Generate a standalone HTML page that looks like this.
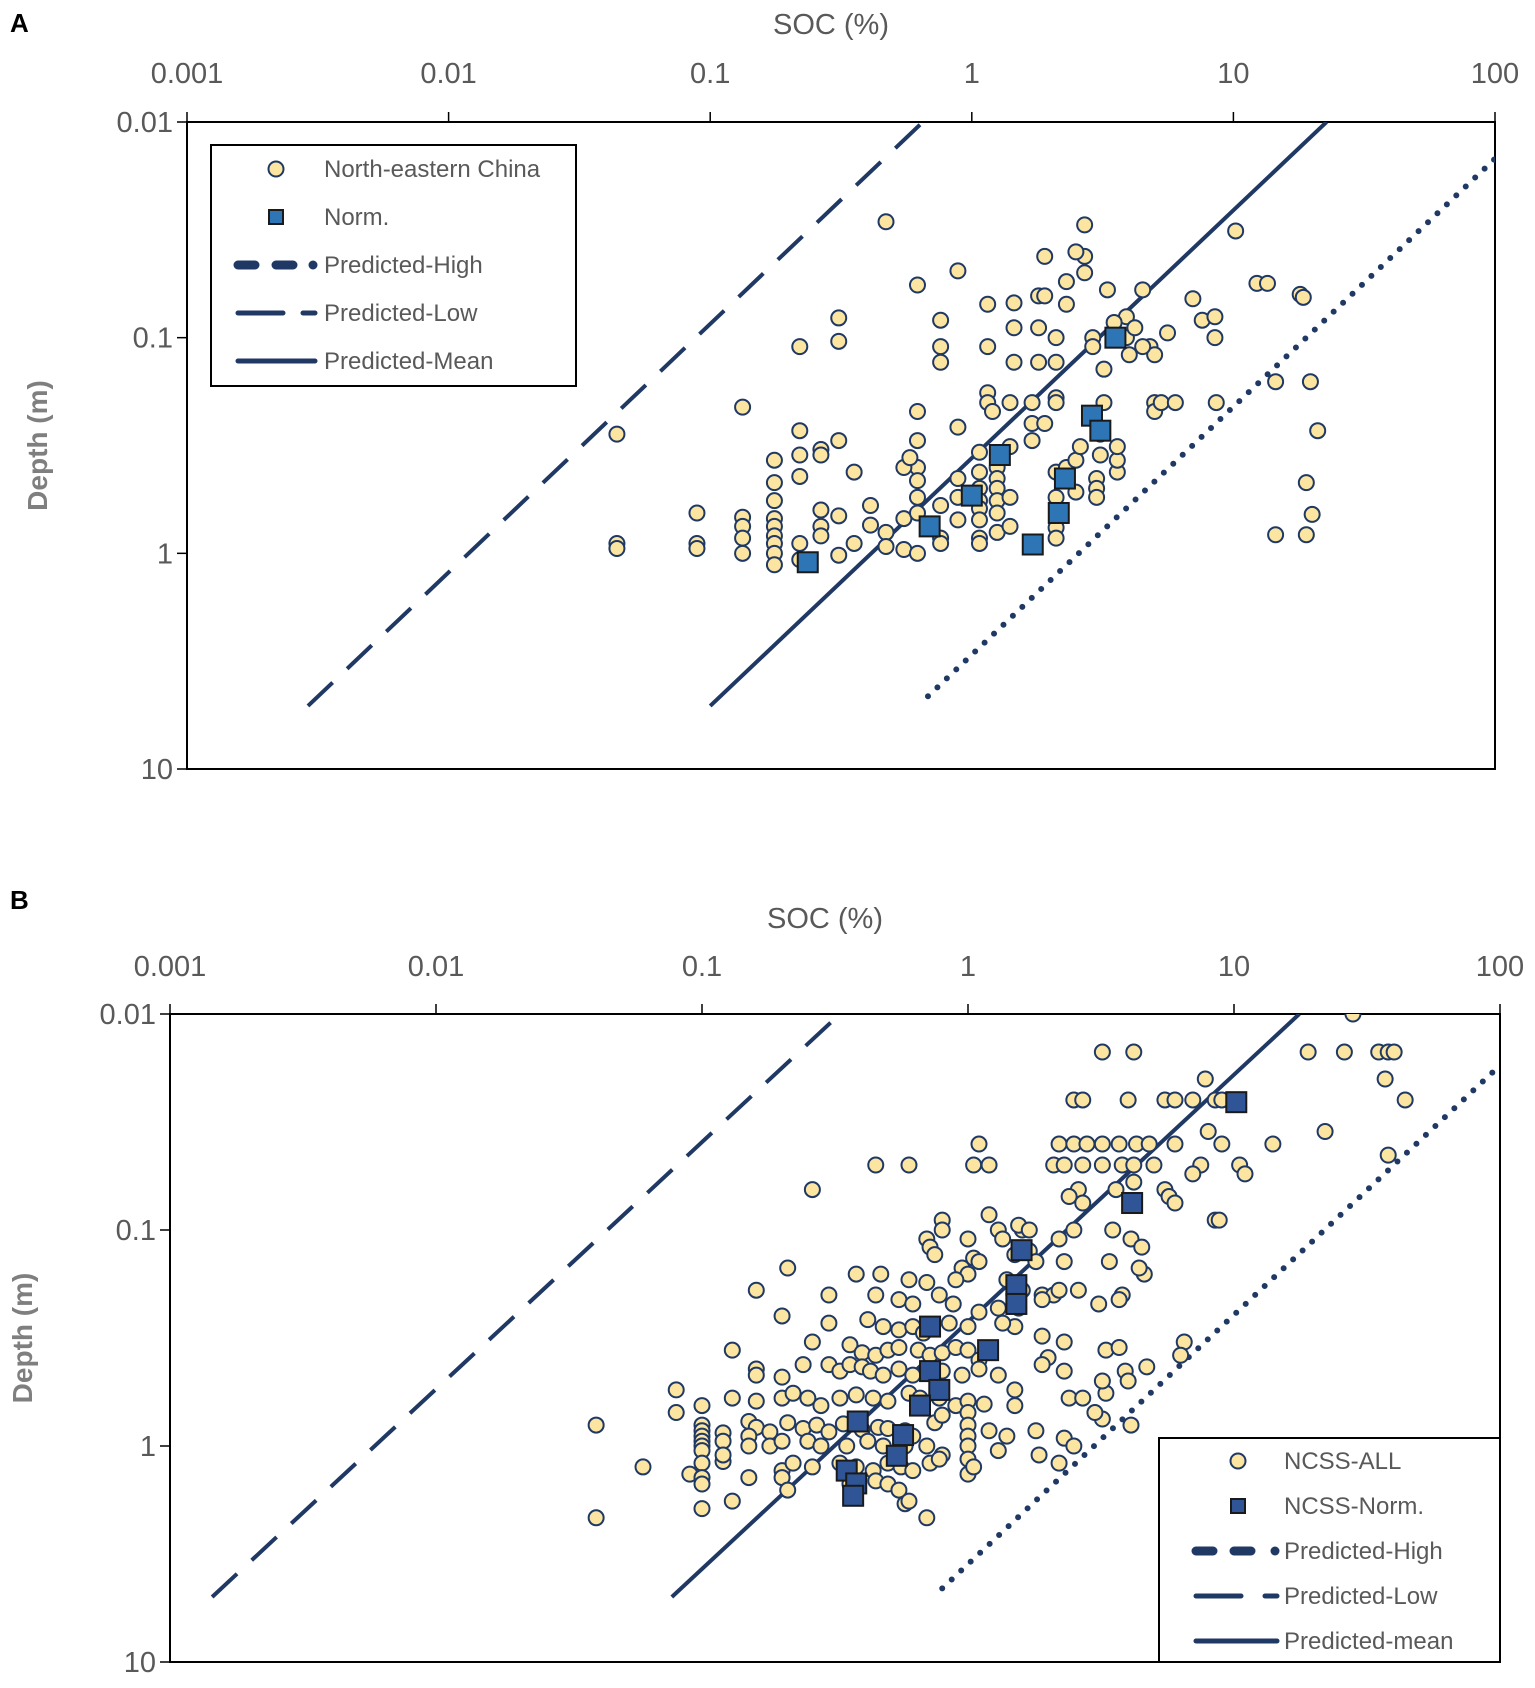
<!DOCTYPE html>
<html><head><meta charset="utf-8"><style>
html,body{margin:0;padding:0;background:#fff;}
svg text{font-family:"Liberation Sans",sans-serif;}
</style></head><body>
<svg id="fig" width="1535" height="1683" viewBox="0 0 1535 1683" xmlns="http://www.w3.org/2000/svg"></svg>
<script>
const xTicks = [0.001, 0.01, 0.1, 1, 10, 100];
const xTickLabels = ["0.001","0.01","0.1","1","10","100"];
const yTicks = [0.01, 0.1, 1, 10];
const yTickLabels = ["0.01","0.1","1","10"];

const aCircleSoc = [0.044,0.044,0.044,0.089,0.089,0.089,0.133,0.133,0.133,0.133,0.133,0.176,0.176,0.176,0.176,0.176,0.176,0.176,0.176,0.176,0.22,0.22,0.22,0.22,0.22,0.22,0.265,0.265,0.265,0.265,0.265,0.31,0.31,0.31,0.31,0.31,0.355,0.355,0.41,0.41,0.47,0.47,0.47,0.55,0.55,0.62,0.62,0.62,0.62,0.62,0.62,0.62,0.62,0.55,0.58,0.76,0.76,0.76,0.885,0.885,0.885,0.885,0.885,0.76,0.76,0.76,1.07,1.07,1.07,1.07,1.07,1.07,1.07,1.07,1.25,1.25,1.25,1.25,1.25,1.25,1.15,1.15,1.15,1.15,1.2,1.4,1.4,1.4,1.4,1.45,1.45,1.45,1.7,1.7,1.7,1.8,1.8,1.8,1.9,1.9,2.1,2.1,2.1,2.1,2.1,2.1,2.1,2.1,2.3,2.3,2.5,2.5,2.7,2.7,2.7,2.9,2.9,3.0,3.0,3.0,3.1,3.2,3.2,3.6,3.6,3.6,3.9,3.9,4.0,4.5,4.8,5,5,5,5.3,5.6,6,7,7.6,8.5,8.6,8.5,10.2,12.3,13.5,14.5,14.5,18,18.5,19.7,19,19,20,21,2.5,2.3,3.3,3.5,4.2,4.5,1.9,2.6,3.1];
const aCircleDepth = [0.28,0.9,0.95,0.65,0.9,0.95,0.21,0.68,0.75,0.85,1.0,0.37,0.47,0.57,0.69,0.75,0.83,0.9,1.0,1.13,0.11,0.27,0.35,0.44,0.9,1.07,0.63,0.75,0.83,0.33,0.35,0.081,0.104,0.3,0.67,1.02,0.42,0.9,0.6,0.74,0.029,0.8,0.93,0.69,0.96,0.057,0.22,0.3,0.4,0.46,0.55,0.65,1.0,0.4,0.36,0.6,0.85,0.9,0.049,0.26,0.45,0.55,0.7,0.083,0.11,0.13,0.34,0.42,0.5,0.57,0.62,0.7,0.85,0.9,0.4,0.45,0.5,0.57,0.65,0.8,0.07,0.11,0.18,0.2,0.22,0.2,0.32,0.55,0.75,0.069,0.09,0.13,0.3,0.25,0.2,0.13,0.09,0.064,0.042,0.064,0.1,0.13,0.19,0.2,0.42,0.55,0.76,0.85,0.07,0.4,0.37,0.52,0.03,0.042,0.05,0.1,0.11,0.45,0.5,0.55,0.28,0.2,0.14,0.42,0.37,0.32,0.08,0.1,0.12,0.06,0.11,0.12,0.2,0.22,0.2,0.095,0.2,0.066,0.083,0.08,0.2,0.1,0.032,0.056,0.056,0.16,0.82,0.063,0.065,0.16,0.47,0.82,0.66,0.27,0.04,0.055,0.06,0.085,0.09,0.11,0.25,0.32,0.35];
const aSquareSoc = [0.236,0.69,1.0,1.28,1.71,2.15,2.27,2.88,3.1,3.54];
const aSquareDepth = [1.1,0.75,0.54,0.35,0.91,0.65,0.45,0.23,0.27,0.1];
const aHighLine = [[0.0029,5.1],[0.65,0.01]];
const aMeanLine = [[0.1,5.1],[22.7,0.01]];
const aLowLine = [[0.68,4.6],[100,0.0148]];

const bCircleSoc = [28,3.2,4.2,19,26,35,38,40,7.8,37,2.5,2.7,4,5.5,6,7,8.5,9,44,2.2,2.5,2.8,3.2,3.7,4.3,4.8,6,14,8,22,9,1.1,1.05,1.2,2.1,2.3,2.7,3.2,3.8,4.2,5,7.5,10.5,11,7,38,0.45,0.6,0.26,2.6,2.4,3.6,4.2,5.5,5.7,6,2.7,8.5,8.8,1.2,0.8,0.8,1.6,1.55,1.7,1.3,1.35,2.5,2.2,3.5,4.1,4.5,0.7,0.72,0.75,1.0,1.05,1.1,0.95,1.0,1.5,1.7,1.8,2.3,3.4,4.6,4.4,0.21,0.38,0.47,0.6,0.7,0.9,1.4,1.6,1.9,2.1,2.6,3.1,3.8,3.7,0.16,0.3,0.45,0.55,0.62,0.78,0.88,1.1,1.3,1.55,1.9,2.2,0.2,0.3,0.42,0.48,0.55,0.62,0.68,0.85,1.0,1.5,1.35,0.13,0.26,0.36,0.4,0.45,0.5,0.55,0.65,0.72,0.8,0.9,1.0,1.1,1.9,2.0,2.3,3.3,3.7,6.5,0.16,0.16,0.2,0.24,0.3,0.33,0.36,0.4,0.43,0.48,0.55,0.62,0.72,0.8,0.95,1.1,1.3,1.9,2.3,3.9,4.7,0.08,0.08,0.1,0.13,0.16,0.2,0.22,0.25,0.28,0.33,0.38,0.44,0.5,0.6,0.66,0.78,0.9,1.0,1.15,1.5,1.5,2.4,3.3,4.1,0.1,0.1,0.1,0.12,0.15,0.16,0.18,0.21,0.24,0.27,0.3,0.34,0.4,0.46,0.5,0.58,0.62,0.75,0.8,1.0,1.0,1.0,1.2,1.4,0.04,0.1,0.1,0.1,0.12,0.15,0.15,0.18,0.2,0.25,0.28,0.35,0.42,0.48,0.58,0.7,0.8,1.0,1.3,2.3,1.85,0.1,0.12,0.12,0.09,0.1,0.15,0.2,0.22,0.26,0.33,0.38,0.44,0.5,0.56,0.62,0.72,0.78,1.0,1.0,1.05,0.06,0.1,0.1,0.13,0.2,0.21,0.36,0.38,0.45,0.5,0.55,0.58,0.7,0.04,0.6,4,3.2,6.3,3.2,3.0,2.5,2.2,1.8,2.7];
const bCircleDepth = [0.01,0.015,0.015,0.015,0.015,0.015,0.015,0.015,0.02,0.02,0.025,0.025,0.025,0.025,0.025,0.025,0.025,0.025,0.025,0.04,0.04,0.04,0.04,0.04,0.04,0.04,0.04,0.04,0.035,0.035,0.04,0.04,0.05,0.05,0.05,0.05,0.05,0.05,0.05,0.05,0.05,0.05,0.05,0.055,0.055,0.045,0.05,0.05,0.065,0.065,0.07,0.065,0.06,0.065,0.07,0.075,0.075,0.09,0.09,0.085,0.09,0.1,0.1,0.095,0.1,0.1,0.11,0.1,0.11,0.1,0.11,0.12,0.11,0.12,0.13,0.11,0.135,0.14,0.15,0.16,0.13,0.125,0.14,0.14,0.14,0.16,0.15,0.15,0.16,0.16,0.17,0.175,0.17,0.17,0.19,0.2,0.2,0.19,0.22,0.2,0.21,0.19,0.2,0.2,0.21,0.22,0.2,0.22,0.24,0.23,0.23,0.21,0.19,0.25,0.27,0.26,0.28,0.29,0.28,0.3,0.27,0.28,0.28,0.27,0.36,0.33,0.34,0.37,0.38,0.36,0.35,0.36,0.38,0.37,0.35,0.36,0.4,0.31,0.39,0.33,0.36,0.35,0.33,0.44,0.47,0.48,0.42,0.42,0.45,0.42,0.43,0.45,0.47,0.44,0.47,0.44,0.45,0.47,0.44,0.47,0.42,0.45,0.45,0.43,0.55,0.7,0.65,0.6,0.62,0.6,0.57,0.6,0.65,0.6,0.58,0.6,0.62,0.57,0.6,0.6,0.65,0.62,0.64,0.55,0.65,0.6,0.57,0.8,0.8,0.85,0.9,0.87,0.77,0.82,0.86,0.78,0.83,0.8,0.86,0.79,0.84,0.82,0.83,0.85,0.9,0.78,0.72,0.7,0.8,0.9,0.85,0.9,0.8,0.95,1.0,1.05,0.95,0.9,1.0,1.0,0.95,0.95,1.0,1.0,0.95,1.0,1.0,1.0,1.1,1.0,1.05,0.92,1.1,1.2,1.18,1.1,1.35,1.4,1.4,1.3,1.2,1.25,1.2,1.25,1.3,1.2,1.25,1.3,1.2,1.15,1.15,1.35,1.25,1.25,1.5,1.95,1.8,1.4,1.6,1.5,1.6,1.45,1.5,1.6,1.85,2.15,2.15,1.8,0.5,0.5,0.38,0.75,0.7,1.0,1.2,0.85,0.6];
const bSquareSoc = [10.2,4.14,1.59,1.52,1.52,1.19,0.72,0.72,0.78,0.66,0.57,0.385,0.54,0.35,0.38,0.37];
const bSquareDepth = [0.0256,0.075,0.124,0.18,0.22,0.36,0.28,0.45,0.55,0.65,0.89,0.77,1.11,1.3,1.49,1.7];
const bHighLine = [[0.00144,5.0],[0.33,0.01]];
const bMeanLine = [[0.077,5.0],[17.6,0.01]];
const bLowLine = [[0.8,4.56],[100,0.0173]];

const NS = "http://www.w3.org/2000/svg";
const svg = document.getElementById('fig');
const NAVY = "#1f3864";
function mk(tag, attrs, parent) {
  const el = document.createElementNS(NS, tag);
  for (const k in attrs) el.setAttribute(k, attrs[k]);
  (parent || svg).appendChild(el);
  return el;
}
function panel(cfg) {
  const g = mk('g', {});
  
  
  const sx = v => cfg.L + (Math.log10(v) + 3) / 5 * (cfg.R - cfg.L);
  const sy = v => cfg.T + (Math.log10(v) + 2) / 3 * (cfg.B - cfg.T);
  const clip = mk('clipPath', {id: cfg.name + '-clip'}, g);
  mk('rect', {x: cfg.L, y: cfg.T, width: cfg.R - cfg.L, height: cfg.B - cfg.T}, clip);
  const frame = mk('rect', {x: cfg.L, y: cfg.T, width: cfg.R - cfg.L, height: cfg.B - cfg.T, fill: 'none', stroke: '#000', 'stroke-width': 2}, g);
  
  
  xTicks.forEach((t, i) => {
    const x = sx(t);
    mk('line', {x1: x, x2: x, y1: cfg.T - 10, y2: cfg.T, stroke: '#000', 'stroke-width': 1.5}, g);
    const tx = mk('text', {x: x, y: cfg.xLabY, 'text-anchor': 'middle', 'font-size': 29, fill: '#595959'}, g);
    tx.textContent = xTickLabels[i];
    
    
  });
  yTicks.forEach((t, i) => {
    const y = sy(t);
    mk('line', {x1: cfg.L - 10, x2: cfg.L, y1: y, y2: y, stroke: '#000', 'stroke-width': 1.5}, g);
    const tx = mk('text', {x: cfg.L - 14, y: y + 10, 'text-anchor': 'end', 'font-size': 29, fill: '#595959'}, g);
    tx.textContent = yTickLabels[i];
    
    
  });
  const xt = mk('text', {x: (cfg.L + cfg.R) / 2 - 10, y: cfg.xTitleY, 'text-anchor': 'middle', 'font-size': 29, fill: '#595959'}, g);
  xt.textContent = 'SOC (%)';
  
  
  const yt = mk('text', {x: 0, y: 0, 'text-anchor': 'middle', 'font-size': 28, 'font-weight': 'bold', fill: '#7f7f7f', transform: `translate(${cfg.yTitleX},${(cfg.T + cfg.B) / 2}) rotate(-90)`}, g);
  yt.textContent = 'Depth (m)';
  
  
  const pl = mk('text', {x: cfg.panelX, y: cfg.panelY, 'font-size': 26, 'font-weight': 'bold', fill: '#000'}, g);
  pl.textContent = cfg.letter;
  
  

  const pg = mk('g', {'clip-path': `url(#${cfg.name}-clip)`}, g);
  const lineDefs = [
    [cfg.high, {'stroke-dasharray': '34 20', 'stroke-width': 4}, 'predicted-high-line'],
    [cfg.mean, {'stroke-width': 4}, 'predicted-mean-line'],
    [cfg.low, {'stroke-dasharray': '0 13', 'stroke-width': 6, 'stroke-linecap': 'round'}, 'predicted-low-line']
  ];
  lineDefs.forEach(([d, st, nm]) => {
    const a = Object.assign({x1: sx(d[0][0]), y1: sy(d[0][1]), x2: sx(d[1][0]), y2: sy(d[1][1]), stroke: NAVY}, st);
    const ln = mk('line', a, pg);
    
    
  });
  cfg.cSoc.forEach((v, i) => {
    const c = mk('circle', {cx: sx(v), cy: sy(cfg.cDep[i]), r: 7.5, fill: '#fbe5a0', stroke: NAVY, 'stroke-width': 2}, pg);
    
    
  });
  cfg.sSoc.forEach((v, i) => {
    const s = mk('rect', {x: sx(v) - 10, y: sy(cfg.sDep[i]) - 10, width: 20, height: 20, fill: cfg.sqFill, stroke: '#1a1a1a', 'stroke-width': 2}, pg);
    
    
  });
  // legend
  const lg = mk('g', {}, g);
  
  
  const Lb = cfg.leg;
  mk('rect', {x: Lb.x, y: Lb.y, width: Lb.w, height: Lb.h, fill: '#fff', stroke: '#000', 'stroke-width': 2}, lg);
  const items = cfg.legLabels;
  items.forEach((lab, i) => {
    const y = Lb.rows[i];
    const eg = mk('g', {}, lg);
    
    
    if (i === 0) mk('circle', {cx: Lb.mx, cy: y, r: 7.5, fill: '#fbe5a0', stroke: NAVY, 'stroke-width': 2}, eg);
    else if (i === 1) mk('rect', {x: Lb.mx - 7, y: y - 7, width: 14, height: 14, fill: cfg.sqFill, stroke: '#1a1a1a', 'stroke-width': 2}, eg);
    else if (i === 2) {
      mk('line', {x1: Lb.l1 + 5, x2: Lb.l1 + 60, y1: y, y2: y, stroke: NAVY, 'stroke-width': 9, 'stroke-linecap': 'round', 'stroke-dasharray': '17 21'}, eg);
      mk('circle', {cx: Lb.l2 - 5, cy: y, r: 4.5, fill: NAVY}, eg);
    } else if (i === 3) {
      mk('line', {x1: Lb.l1 + 5, x2: Lb.l1 + 50, y1: y, y2: y, stroke: NAVY, 'stroke-width': 5, 'stroke-linecap': 'round'}, eg);
      mk('line', {x1: Lb.l2 - 15, x2: Lb.l2 - 3, y1: y, y2: y, stroke: NAVY, 'stroke-width': 5, 'stroke-linecap': 'round'}, eg);
    } else {
      mk('line', {x1: Lb.l1 + 5, x2: Lb.l2 - 3, y1: y, y2: y, stroke: NAVY, 'stroke-width': 5, 'stroke-linecap': 'round'}, eg);
    }
    const t = mk('text', {x: Lb.tx, y: y + 8, 'font-size': 24, fill: '#595959'}, eg);
    t.textContent = lab;
  });
}
panel({name: 'panel-a', letter: 'A', panelX: 10, panelY: 32, L: 187, R: 1495, T: 122, B: 769,
  xLabY: 83, xTitleY: 34, yTitleX: 47, high: aHighLine, mean: aMeanLine, low: aLowLine,
  cSoc: aCircleSoc, cDep: aCircleDepth, sSoc: aSquareSoc, sDep: aSquareDepth, sqFill: '#2e75b6',
  leg: {x: 211, y: 145, w: 365, h: 241, rows: [169, 217, 265, 313, 361], mx: 276, l1: 233, l2: 318, tx: 324},
  legLabels: ['North-eastern China', 'Norm.', 'Predicted-High', 'Predicted-Low', 'Predicted-Mean']});
panel({name: 'panel-b', letter: 'B', panelX: 10, panelY: 909, L: 170, R: 1500, T: 1014, B: 1662,
  xLabY: 976, xTitleY: 928, yTitleX: 32, high: bHighLine, mean: bMeanLine, low: bLowLine,
  cSoc: bCircleSoc, cDep: bCircleDepth, sSoc: bSquareSoc, sDep: bSquareDepth, sqFill: '#2f5597',
  leg: {x: 1159, y: 1438, w: 341, h: 224, rows: [1461, 1506, 1551, 1596, 1641], mx: 1238, l1: 1191, l2: 1280, tx: 1284},
  legLabels: ['NCSS-ALL', 'NCSS-Norm.', 'Predicted-High', 'Predicted-Low', 'Predicted-mean']});
</script>
</body></html>
